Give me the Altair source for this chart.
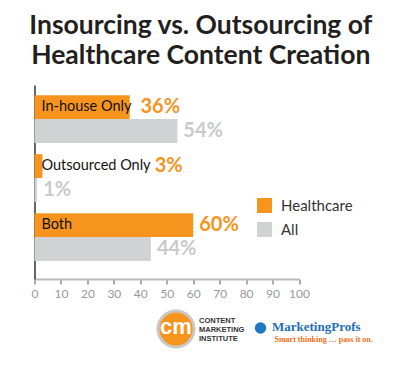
import altair as alt
import pandas as pd

categories = ["In-house Only", "Outsourced Only", "Both"]
series = ["Healthcare", "All"]
healthcare = [36, 3, 60]
all_content = [54, 1, 44]
x_ticks = [0, 10, 20, 30, 40, 50, 60, 70, 80, 90, 100]

ORANGE = "#F7941D"
GRAY = "#D1D2D4"
LABEL_GRAY = "#C9CACC"
FONT = "Lato"

rows = []
for i, c in enumerate(categories):
    rows.append({"category": c, "series": "Healthcare", "value": healthcare[i]})
    rows.append({"category": c, "series": "All", "value": all_content[i]})
df = pd.DataFrame(rows)
df["label"] = df["value"].astype(str) + "%"
# value label sits after the bar, or after the category name written inside it
df["label_x"] = [
    max(v, len(c) * 2.7 + 2.7) if s == "Healthcare" else v
    for c, s, v in zip(df["category"], df["series"], df["value"])
]

x_scale = alt.Scale(domain=[0, 100], nice=False)
x_axis = alt.Axis(
    values=x_ticks, grid=False, domainColor="#BBBBBB", domainWidth=2,
    tickColor="#555555", tickSize=5, labelColor="#999999", labelFontSize=12,
    labelFont=FONT, labelPadding=4, labelOverlap=False, labelFlush=False,
)

base = alt.Chart(df).encode(
    y=alt.Y(
        "category:N",
        sort=categories,
        title=None,
        scale=alt.Scale(paddingInner=0.19, paddingOuter=0.239, align=0.36),
        axis=alt.Axis(labels=False, ticks=False, domainColor="#333333", domainWidth=1.5, grid=False),
    ),
    yOffset=alt.YOffset("series:N", sort=series),
)

bars = base.mark_bar().encode(
    x=alt.X("value:Q", scale=x_scale, title=None, axis=x_axis),
    color=alt.Color(
        "series:N",
        scale=alt.Scale(domain=series, range=[ORANGE, GRAY]),
        legend=alt.Legend(
            orient="none", legendX=222.5, legendY=113, title=None,
            symbolType="square", symbolSize=225, symbolStrokeWidth=0,
            labelFontSize=15, labelFont=FONT, labelColor="#333333",
            rowPadding=8, labelOffset=9, padding=0,
        ),
    ),
)

cat_text = base.transform_filter("datum.series == 'Healthcare'").mark_text(
    align="left", baseline="middle", fontSize=14.5, font=FONT, color="#111111"
).encode(x=alt.value(7), text="category:N")

val_text = base.mark_text(
    align="left", baseline="middle", dx=6, fontSize=20, font=FONT, fontWeight="bold"
).encode(
    x=alt.X("label_x:Q", scale=x_scale, title=None, axis=x_axis),
    text="label:N",
    color=alt.condition("datum.series == 'Healthcare'", alt.value(ORANGE), alt.value(LABEL_GRAY)),
)

one = pd.DataFrame({"k": [0]})
logo_circle = alt.Chart(one).mark_point(
    filled=True, shape="circle", size=1300, color=ORANGE, stroke="#C8C8C8", strokeWidth=3, opacity=1
).encode(x=alt.value(141.5), y=alt.value(244))
logo_cm = alt.Chart(one).mark_text(
    text="cm", fontSize=22, fontWeight="bold", color="white", font="Liberation Sans", baseline="middle"
).encode(x=alt.value(141.5), y=alt.value(242))
cmi_lines = []
for i, t in enumerate(["CONTENT", "MARKETING", "INSTITUTE"]):
    cmi_lines.append(
        alt.Chart(one).mark_text(
            text=t, fontSize=7.5, font="Liberation Sans", fontWeight="bold", color="#333333",
            align="left", baseline="middle",
        ).encode(x=alt.value(164.5), y=alt.value(236 + 9 * i))
    )
bird = alt.Chart(one).mark_point(
    filled=True, shape="circle", size=130, color="#1F78C1", opacity=1
).encode(x=alt.value(226), y=alt.value(243))
mp_text = alt.Chart(one).mark_text(
    text="MarketingProfs", fontSize=13, font="Liberation Serif", fontWeight="bold",
    color="#1F6EB5", align="left", baseline="middle",
).encode(x=alt.value(237.5), y=alt.value(242))
mp_tag = alt.Chart(one).mark_text(
    text="Smart thinking … pass it on.", fontSize=8, font="Liberation Serif", fontWeight="bold",
    color="#F26F21", align="left", baseline="middle",
).encode(x=alt.value(240), y=alt.value(255))

chart = alt.layer(
    bars, cat_text, val_text, logo_circle, logo_cm, *cmi_lines, bird, mp_text, mp_tag
).properties(
    width=264.5,
    height=194,
    autosize=alt.AutoSizeParams(type="none"),
    padding={"left": 26.5, "top": 77, "right": 95, "bottom": 78},
    title=alt.Title(
        ["Insourcing vs. Outsourcing of", "Healthcare Content Creation"],
        fontSize=26.5, font=FONT, fontWeight="bold", color="#231F20",
        anchor="middle", dx=34, offset=16, lineHeight=30,
    ),
).configure_view(stroke=None)

chart.save("out.html", embed_options={"renderer": "svg", "actions": False})
